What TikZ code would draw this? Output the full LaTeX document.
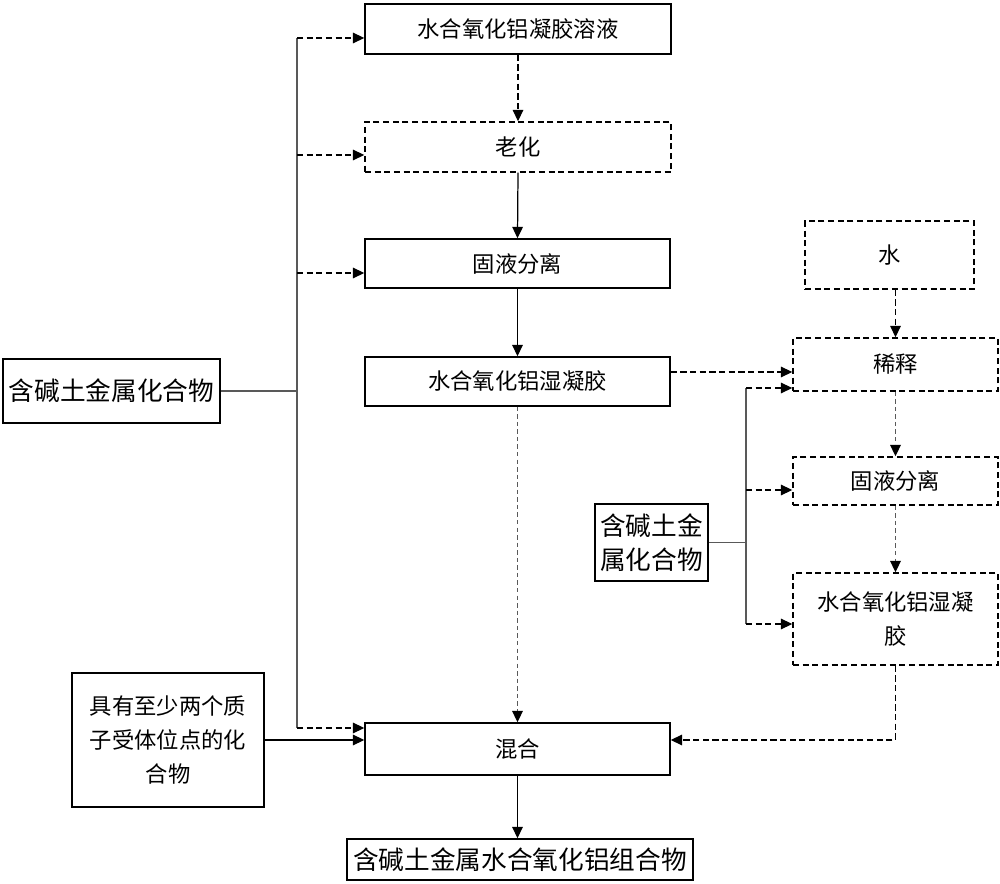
\documentclass[tikz,border=0pt]{standalone}
\usepackage{fontspec}
\newfontfamily\cjk{Noto Sans CJK SC}
\usetikzlibrary{arrows.meta}

\newcommand{\smtxt}{\cjk\fontsize{12.7}{19.5}\selectfont}
\newcommand{\bgtxt}{\cjk\fontsize{14.6}{19.5}\selectfont}

\begin{document}
\begin{tikzpicture}[
  box/.style={draw, line width=0.8pt, minimum height=1cm, inner sep=1pt, font=\smtxt, align=center},
  dbox/.style={box, dash pattern=on 3.5pt off 2pt},
  tip/.style={-{Triangle[length=6.5pt,width=6pt,color=black]}},
  flow/.style={tip, line width=0.7pt},
  flowd/.style={flow, dash pattern=on 3.5pt off 2pt},
  flowg/.style={flow, draw=black!65, line width=0.9pt, dash pattern=on 2.5pt off 1.8pt},
  bus/.style={line width=0.9pt, draw=black!65},
]
  \useasboundingbox (0,0) rectangle (20,-17.68);

  % main column
  \node[box, minimum width=6.12cm] (sol) at (10.36,-0.58) {水合氧化铝凝胶溶液};
  \node[dbox, minimum width=6.12cm] (aging) at (10.36,-2.94) {老化};
  \node[box, minimum width=6.1cm, minimum height=0.98cm] (sep1) at (10.35,-5.27) {固液分离};
  \node[box, minimum width=6.1cm, minimum height=0.98cm] (gel1) at (10.35,-7.63) {水合氧化铝湿凝胶};
  \node[box, minimum width=6.1cm, minimum height=1.04cm] (mix) at (10.35,-14.98) {混合};
  \node[box, minimum width=6.92cm, minimum height=0.82cm, font=\bgtxt] (prod) at (10.40,-17.19) {含碱土金属水合氧化铝组合物};

  % left inputs
  \node[box, minimum width=4.34cm, minimum height=1.28cm, font=\bgtxt] (akl) at (2.23,-7.82) {含碱土金属化合物};
  \node[box, minimum width=3.84cm, minimum height=2.68cm] (acc) at (3.36,-14.80) {具有至少两个质\\子受体位点的化\\合物};

  % right column
  \node[dbox, minimum width=3.38cm, minimum height=1.36cm] (water) at (17.79,-5.10) {水};
  \node[dbox, minimum width=4.1cm, minimum height=1.06cm] (dil) at (17.91,-7.29) {稀释};
  \node[dbox, minimum width=4.1cm, minimum height=0.96cm] (sep2) at (17.91,-9.62) {固液分离};
  \node[dbox, minimum width=4.1cm, minimum height=1.84cm] (gel2) at (17.91,-12.38) {水合氧化铝湿凝\\胶};
  \node[box, minimum width=2.26cm, minimum height=1.54cm, font=\bgtxt] (akl2) at (13.03,-10.85) {含碱土金\\属化合物};

  % left bus
  \coordinate (l1) at (5.94,-0.76);
  \coordinate (l2) at (5.94,-3.10);
  \coordinate (l3) at (5.94,-5.46);
  \coordinate (l4) at (5.94,-14.56);
  \draw[bus] (l1) -- (l4);
  \draw[bus] (akl.east) -- (akl.east -| l1);
  \draw[flowd] (l1) -- (l1 -| sol.west);
  \draw[flowd] (l2) -- (l2 -| aging.west);
  \draw[flowd] (l3) -- (l3 -| sep1.west);
  \draw[flowd] (l4) -- (l4 -| mix.west);
  \draw[flow] (acc.east) -- (acc.east -| mix.west);

  % main flow
  \draw[flowd] (sol.south) -- (aging.north);
  \draw[flow] (aging.south) -- (sep1.north);
  \draw[flow] (sep1.south) -- (gel1.north);
  \draw[flowg] (gel1.south) -- (mix.north);
  \draw[flow] (mix.south) -- (mix.south |- prod.north);

  % right bus
  \coordinate (r1) at (14.92,-7.76);
  \coordinate (r2) at (14.92,-9.80);
  \coordinate (r3) at (14.92,-12.48);
  \draw[bus] (r1) -- (r3);
  \draw[bus] (akl2.east) -- (akl2.east -| r1);
  \draw[flowd] (r1) -- (r1 -| dil.west);
  \draw[flowd] (r2) -- (r2 -| sep2.west);
  \draw[flowd] (r3) -- (r3 -| gel2.west);
  \draw[flowd] ([yshift=0.19cm]gel1.east) -- ([yshift=0.19cm]gel1.east -| dil.west);

  % right flow
  \draw[flowd] (water.south -| dil.north) -- (dil.north);
  \draw[flowg] (dil.south) -- (sep2.north);
  \draw[flowg] (sep2.south) -- (gel2.north);
  \draw[flowd] (gel2.south) |- (acc.east -| mix.east);
\end{tikzpicture}
\end{document}
